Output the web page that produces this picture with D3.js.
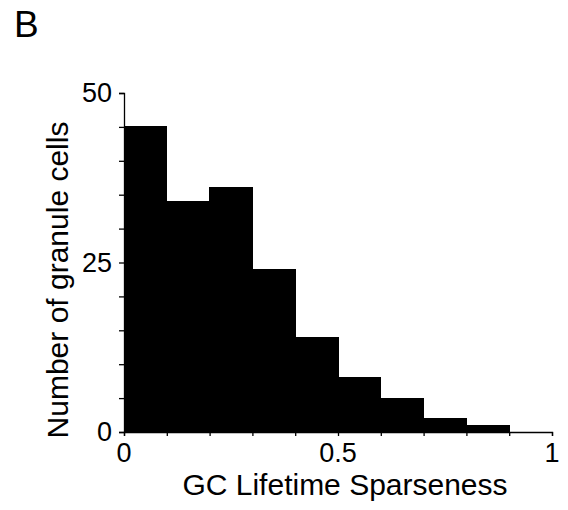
<!DOCTYPE html>
<html><head><meta charset="utf-8">
<script src="https://cdn.jsdelivr.net/npm/d3@7"></script>
<style>body{margin:0;background:#fff}svg{display:block}text{font-family:"Liberation Sans",Arial,sans-serif;fill:#000}</style>
</head><body>
<script>
const binEdges = [0,0.1,0.2,0.3,0.4,0.5,0.6,0.7,0.8,0.9,1.0];
const counts = [45,34,36,24,14,8,5,2,1,0];
const xTickValues = [0,0.5,1];
const xTickLabels = ["0","0.5","1"];
const yTickValues = [0,25,50];
const yTickLabels = ["0","25","50"];
const xLabel = "GC Lifetime Sparseness";
const yLabel = "Number of granule cells";
const panelLabel = "B";

const W=568,H=510;
const svg=d3.select("body").append("svg").attr("width",W).attr("height",H);
const x=d3.scaleLinear().domain([0,1]).range([124,552]);
const y=d3.scaleLinear().domain([0,50]).range([432,93]);

const bins = counts.map((c,i)=>({x0:binEdges[i],x1:binEdges[i+1],c}));
svg.append("g").selectAll("rect").data(bins.filter(d=>d.c>0)).join("rect")
 .attr("x",d=>x(d.x0)).attr("width",d=>x(d.x1)-x(d.x0))
 .attr("y",d=>y(d.c)).attr("height",d=>y(0)-y(d.c))
 .attr("fill","#000").attr("stroke","#000").attr("stroke-width",1)
 .attr("shape-rendering","crispEdges");

// x axis
const xa=svg.append("g").attr("transform","translate(0,432)")
 .call(d3.axisBottom(x).tickValues(d3.range(0,1.0001,0.1)).tickSize(4).tickFormat(""));
xa.select(".domain").attr("stroke","#000").attr("stroke-width",1.3);
xa.selectAll(".tick line").attr("stroke","#000").attr("stroke-width",1.3);
svg.append("g").selectAll("text").data(xTickValues).join("text")
 .attr("x",d=>x(d)).attr("y",462).attr("text-anchor","middle")
 .style("font-size","27px").text((d,i)=>xTickLabels[i]);

// y axis
const ya=svg.append("g").attr("transform","translate(124,0)")
 .call(d3.axisLeft(y).tickValues(d3.range(0,50.001,5)).tickSize(5).tickFormat(""));
ya.select(".domain").attr("stroke","#000").attr("stroke-width",1.3);
ya.selectAll(".tick line").attr("stroke","#000").attr("stroke-width",1.3);
svg.append("g").selectAll("text").data(yTickValues).join("text")
 .attr("x",112).attr("y",d=>y(d)).attr("dy","0.35em").attr("text-anchor","end")
 .style("font-size","27px").text((d,i)=>yTickLabels[i]);

svg.append("text").attr("x",345).attr("y",495).attr("text-anchor","middle")
 .style("font-size","30px").text(xLabel);
svg.append("text").attr("transform","translate(68,280) rotate(-90)").attr("text-anchor","middle")
 .style("font-size","30px").text(yLabel);
svg.append("text").attr("x",14).attr("y",37).style("font-size","37px").text(panelLabel);
</script>
</body></html>
